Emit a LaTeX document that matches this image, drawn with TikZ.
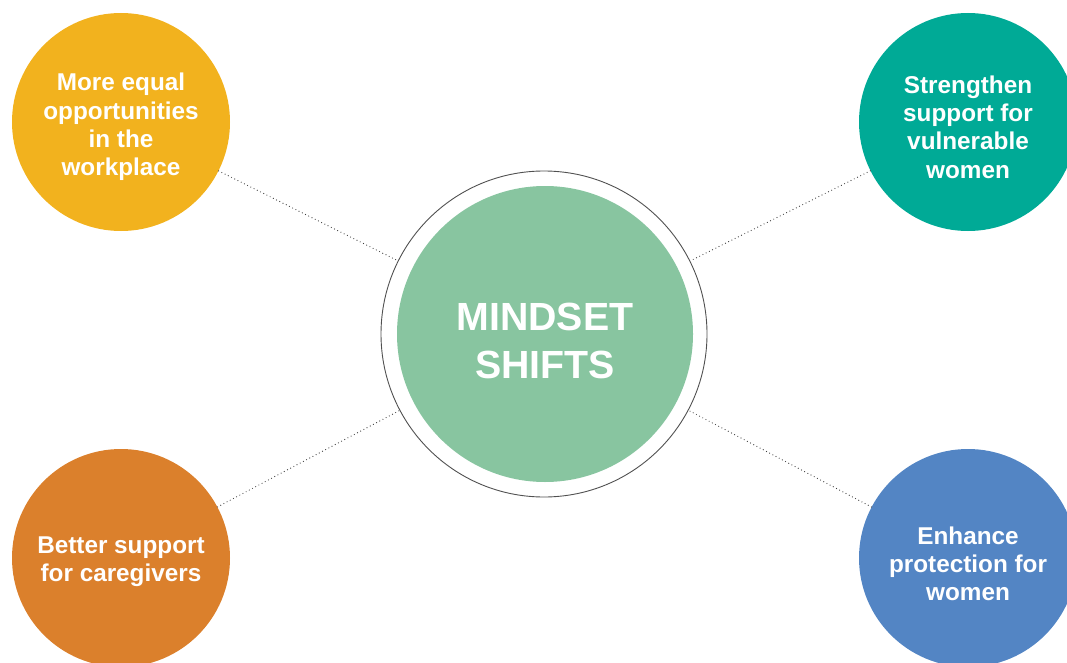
\documentclass[tikz,border=0pt]{standalone}
\usepackage{fontspec}
\setmainfont{Liberation Sans}
\definecolor{cyellow}{RGB}{242,178,30}
\definecolor{cteal}{RGB}{0,170,150}
\definecolor{corange}{RGB}{219,128,44}
\definecolor{cblue}{RGB}{83,133,196}
\definecolor{cgreen}{RGB}{136,197,160}
\definecolor{cring}{RGB}{80,80,80}
\definecolor{cdot}{RGB}{60,60,60}
\begin{document}
\begin{tikzpicture}[x=1pt,y=-1pt,
  bubble/.style={circle, minimum size=218pt, inner sep=0pt},
  bubbletext/.style={text=white, align=center, inner sep=0pt,
    font=\fontsize{24.3}{28.3}\selectfont\bfseries},
  ringnode/.style={circle, minimum size=326pt, inner sep=0pt, draw=cring, line width=0.9pt},
  corenode/.style={circle, minimum size=296pt, inner sep=0pt, fill=cgreen},
  coretext/.style={text=white, align=center, inner sep=0pt,
    font=\fontsize{39.3}{48}\selectfont\bfseries},
  dotline/.style={draw=cdot, line width=1.2pt, line cap=round, dash pattern=on 0pt off 3.6pt}]
\useasboundingbox (0,0) rectangle (1067,663);
\clip (0,0) rectangle (1067,663);
\node[ringnode] (ring) at (544,334) {};
\node[corenode] (core) at (545,334) {};
\node[coretext] (coret) at (545,341) {MINDSET\\SHIFTS};
\node[bubble, fill=cyellow] (tl) at (121,122) {};
\node[bubble, fill=cteal] (tr) at (968,122) {};
\node[bubble, fill=corange] (bl) at (121,558) {};
\node[bubble, fill=cblue] (br) at (968,558) {};
\node[bubbletext] (tlt) at (121,127) {More equal\\opportunities\\in the\\workplace};
\node[bubbletext] (trt) at (968,127) {Strengthen\\support for\\vulnerable\\women};
\node[bubbletext] (blt) at (121,562) {Better support\\for caregivers};
\node[bubbletext] (brt) at (968,564) {Enhance\\protection for\\women};
\draw[dotline] (tl) -- (ring);
\draw[dotline] (tr) -- (ring);
\draw[dotline] (bl) -- (ring);
\draw[dotline] (br) -- (ring);
\end{tikzpicture}
\end{document}
